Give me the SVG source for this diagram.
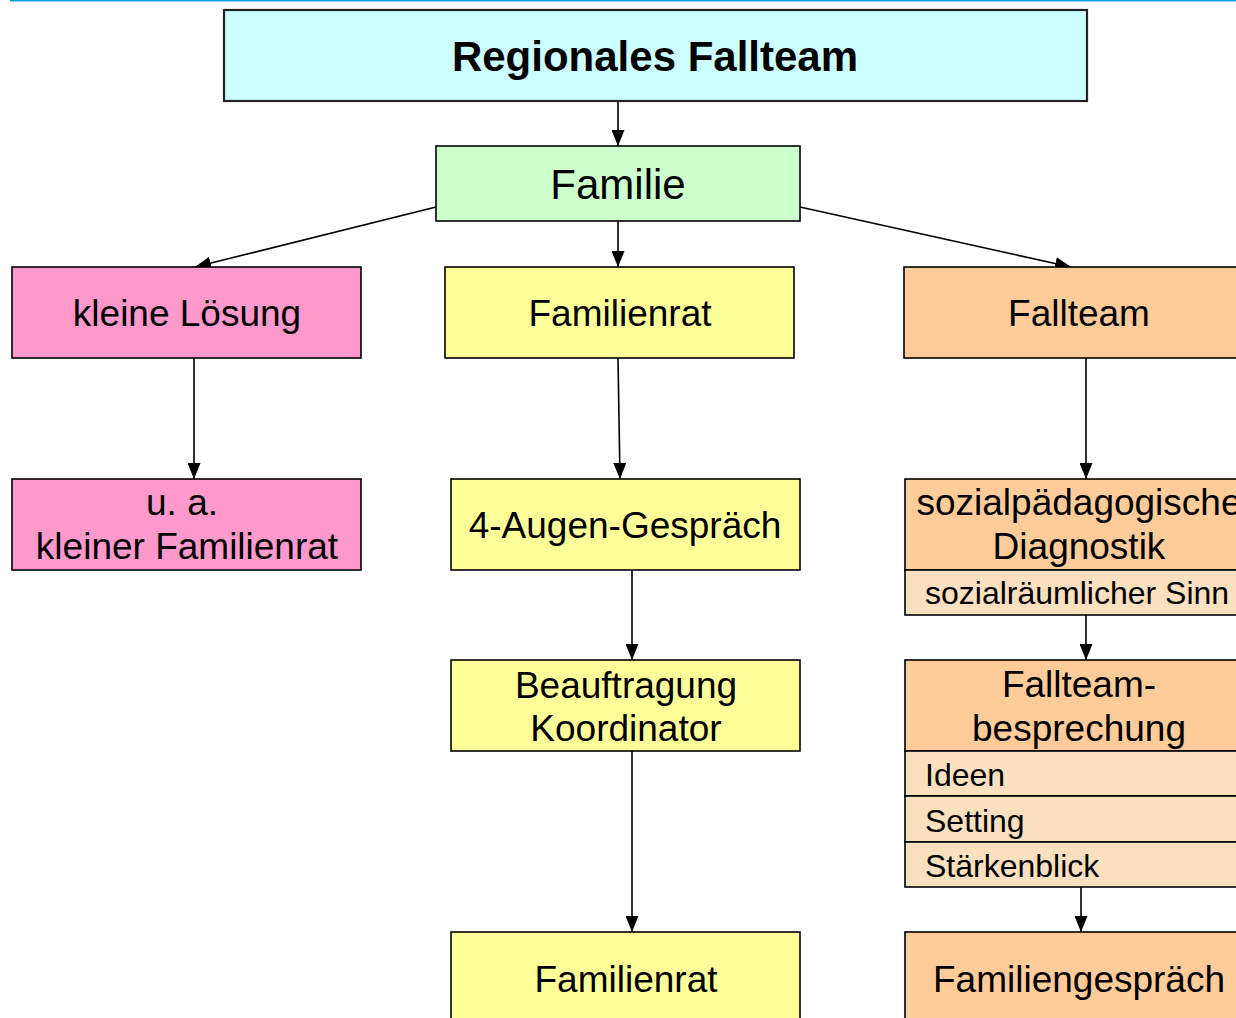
<svg xmlns="http://www.w3.org/2000/svg" width="1236" height="1018" viewBox="0 0 1236 1018">
<style>
.b{stroke:#000;stroke-width:1.6}
.t{font-family:"Liberation Sans",Arial,sans-serif;fill:#000}
.c{text-anchor:middle}
.cn{stroke:#000;stroke-width:1.6;fill:none}
</style>
<defs>
<marker id="ah" markerWidth="16" markerHeight="13" refX="16" refY="6.5" viewBox="0 0 16 13" markerUnits="userSpaceOnUse" orient="auto">
<path d="M0,0 L16,6.5 L0,13 Z" fill="#000"/>
</marker>
</defs>
<rect x="0" y="0" width="1236" height="1018" fill="#fff"/>
<line x1="10" y1="0.8" x2="1236" y2="0.8" stroke="#00A0E3" stroke-width="1.6"/>

<g id="connectors">
<line class="cn" x1="618" y1="101" x2="618" y2="146" marker-end="url(#ah)"/>
<line class="cn" x1="618" y1="221" x2="618" y2="267" marker-end="url(#ah)"/>
<line class="cn" x1="436" y1="207" x2="195" y2="267" marker-end="url(#ah)"/>
<line class="cn" x1="800" y1="207" x2="1071" y2="267" marker-end="url(#ah)"/>
<line class="cn" x1="194" y1="358" x2="194" y2="479" marker-end="url(#ah)"/>
<line class="cn" x1="618" y1="358" x2="620" y2="479" marker-end="url(#ah)"/>
<line class="cn" x1="632" y1="570" x2="632" y2="660" marker-end="url(#ah)"/>
<line class="cn" x1="632" y1="751" x2="632" y2="932" marker-end="url(#ah)"/>
<line class="cn" x1="1086" y1="358" x2="1086" y2="479" marker-end="url(#ah)"/>
<line class="cn" x1="1086" y1="615" x2="1086" y2="660" marker-end="url(#ah)"/>
<line class="cn" x1="1081" y1="887" x2="1081" y2="932" marker-end="url(#ah)"/>
</g>

<g id="n-title">
<rect x="224" y="10" width="863" height="91" fill="#CCFFFF" stroke="#222" stroke-width="2.2"/>
<text class="t c" x="655" y="71" font-size="42" font-weight="bold">Regionales Fallteam</text>
</g>

<g id="n-familie">
<rect class="b" x="436" y="146" width="364" height="75" fill="#CCFFCC"/>
<text class="t c" x="618" y="199" font-size="42">Familie</text>
</g>

<g id="n-kleine-loesung">
<rect class="b" x="12" y="267" width="349" height="91" fill="#FF99CC"/>
<text class="t c" x="187" y="326" font-size="37">kleine Lösung</text>
</g>

<g id="n-familienrat1">
<rect class="b" x="445" y="267" width="349" height="91" fill="#FFFF99"/>
<text class="t c" x="620" y="326" font-size="37">Familienrat</text>
</g>

<g id="n-fallteam">
<rect class="b" x="904" y="267" width="360" height="91" fill="#FFCC99"/>
<text class="t c" x="1079" y="326" font-size="37">Fallteam</text>
</g>

<g id="n-kleiner-familienrat">
<rect class="b" x="12" y="479" width="349" height="91" fill="#FF99CC"/>
<text class="t c" x="182" y="515" font-size="37">u. a.</text>
<text class="t c" x="187" y="559" font-size="37">kleiner Familienrat</text>
</g>

<g id="n-4augen">
<rect class="b" x="451" y="479" width="349" height="91" fill="#FFFF99"/>
<text class="t c" x="625" y="538" font-size="37">4-Augen-Gespräch</text>
</g>

<g id="n-beauftragung">
<rect class="b" x="451" y="660" width="349" height="91" fill="#FFFF99"/>
<text class="t c" x="626" y="698" font-size="37">Beauftragung</text>
<text class="t c" x="626" y="741" font-size="37">Koordinator</text>
</g>

<g id="n-familienrat2">
<rect class="b" x="451" y="932" width="349" height="100" fill="#FFFF99"/>
<text class="t c" x="626" y="992" font-size="37">Familienrat</text>
</g>

<g id="n-diagnostik">
<rect class="b" x="905" y="479" width="360" height="91" fill="#FFCC99"/>
<rect class="b" x="905" y="570" width="360" height="45" fill="#FAE0BE"/>
<text class="t c" x="1079" y="515" font-size="37">sozialpädagogische</text>
<text class="t c" x="1079" y="559" font-size="37">Diagnostik</text>
<text class="t" x="925" y="604" font-size="32">sozialräumlicher Sinn</text>
</g>

<g id="n-fallteambesprechung">
<rect class="b" x="905" y="660" width="360" height="91" fill="#FFCC99"/>
<rect class="b" x="905" y="751" width="360" height="45" fill="#FAE0BE"/>
<rect class="b" x="905" y="796" width="360" height="46" fill="#FAE0BE"/>
<rect class="b" x="905" y="842" width="360" height="45" fill="#FAE0BE"/>
<text class="t c" x="1079" y="697" font-size="37">Fallteam-</text>
<text class="t c" x="1079" y="741" font-size="37">besprechung</text>
<text class="t" x="925" y="786" font-size="32">Ideen</text>
<text class="t" x="925" y="832" font-size="32">Setting</text>
<text class="t" x="925" y="877" font-size="32">Stärkenblick</text>
</g>

<g id="n-familiengespraech">
<rect class="b" x="905" y="932" width="360" height="100" fill="#FFCC99"/>
<text class="t c" x="1079" y="992" font-size="37">Familiengespräch</text>
</g>
</svg>
